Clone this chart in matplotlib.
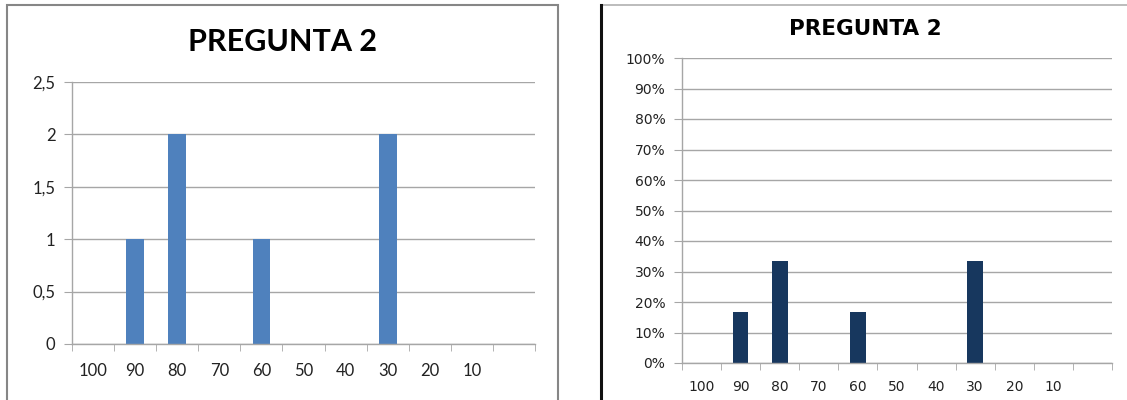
import matplotlib.pyplot as plt
from matplotlib.patches import Rectangle
from matplotlib.lines import Line2D
from matplotlib.ticker import FuncFormatter

# Respuestas de la pregunta 2 por puntaje
categorias = ['100', '90', '80', '70', '60', '50', '40', '30', '20', '10', '']
frecuencia = [0, 1, 2, 0, 1, 0, 0, 2, 0, 0, 0]
total = sum(frecuencia)
porcentaje = [f / total for f in frecuencia]

grid_color = '#A6A6A6'
x = list(range(len(categorias)))
limites = [i - 0.5 for i in range(len(categorias) + 1)]

fig = plt.figure(figsize=(11.27, 4), dpi=100)


def estilo_ejes(ax, fuente, tam_x, tam_y):
    ax.set_xlim(-0.5, len(categorias) - 0.5)
    for s in ['top', 'right']:
        ax.spines[s].set_visible(False)
    for s in ['left', 'bottom']:
        ax.spines[s].set_color(grid_color)
        ax.spines[s].set_linewidth(1)
    ax.yaxis.grid(True, color=grid_color, linewidth=1)
    ax.set_axisbelow(True)
    ax.set_xticks(x)
    ax.set_xticklabels(categorias, fontsize=tam_x, family=fuente, color='#222222')
    ax.set_xticks(limites, minor=True)
    ax.tick_params(axis='x', which='major', length=0, pad=14)
    ax.tick_params(axis='x', which='minor', length=5, color=grid_color, direction='out')
    ax.tick_params(axis='y', length=6, color=grid_color, labelsize=tam_y, pad=6)
    for t in ax.get_yticklabels():
        t.set_family(fuente)
        t.set_color('#222222')


# Panel izquierdo: frecuencias
ax1 = fig.add_axes([72 / 1127, 1 - 344 / 400, 463 / 1127, 262 / 400])
ax1.bar(x, frecuencia, width=0.42, color='#4F81BD')
ax1.set_ylim(0, 2.5)
ax1.set_yticks([0, 0.5, 1, 1.5, 2, 2.5])
ax1.yaxis.set_major_formatter(FuncFormatter(lambda v, p: f'{v:g}'.replace('.', ',')))
estilo_ejes(ax1, 'Lato', 12, 12)
fig.text(282 / 1127, 1 - 42 / 400, 'PREGUNTA 2', ha='center', va='center',
         fontsize=22, fontweight='bold', family='Lato')

# Panel derecho: porcentajes
ax2 = fig.add_axes([682 / 1127, 1 - 363 / 400, 430 / 1127, 305 / 400])
ax2.bar(x, porcentaje, width=0.4, color='#17375E')
ax2.set_ylim(0, 1)
ax2.set_yticks([i / 10 for i in range(11)])
ax2.yaxis.set_major_formatter(FuncFormatter(lambda v, p: f'{v * 100:.0f}%'))
estilo_ejes(ax2, 'DejaVu Sans', 10, 10)
ax2.tick_params(axis='x', which='major', pad=12)
fig.text(865 / 1127, 1 - 29 / 400, 'PREGUNTA 2', ha='center', va='center',
         fontsize=15.5, fontweight='bold', family='DejaVu Sans')

# Marcos de los dos graficos
fig.add_artist(Rectangle((7 / 1127, -0.05), 551 / 1127, 1.05 - 5 / 400,
                         transform=fig.transFigure, fill=False,
                         edgecolor='#868686', linewidth=1.5))
fig.add_artist(Line2D([601 / 1127, 1.0], [1 - 5 / 400, 1 - 5 / 400],
                      transform=fig.transFigure, color='#B0B0B0', linewidth=1.2))
fig.add_artist(Line2D([601 / 1127, 601 / 1127], [0, 1 - 5 / 400],
                      transform=fig.transFigure, color='#111111', linewidth=2.2))

fig.savefig('out.png', dpi=100)
